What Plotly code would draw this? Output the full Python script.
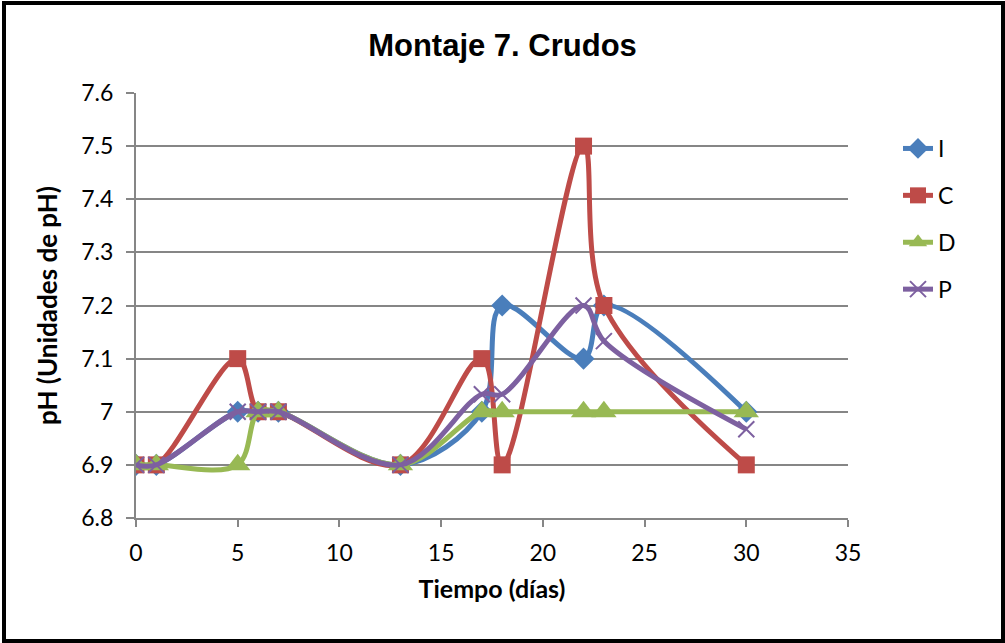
import plotly.graph_objects as go

# Sampling days and pH readings for each series
dias = [0, 1, 5, 6, 7, 13, 17, 18, 22, 23, 30]
ph_I = [6.9, 6.9, 7.0, 7.0, 7.0, 6.9, 7.0, 7.2, 7.1, 7.2, 7.0]
ph_C = [6.9, 6.9, 7.1, 7.0, 7.0, 6.9, 7.1, 6.9, 7.5, 7.2, 6.9]
ph_D = [6.9, 6.9, 6.9, 7.0, 7.0, 6.9, 7.0, 7.0, 7.0, 7.0, 7.0]
ph_P = [6.9, 6.9, 7.0, 7.0, 7.0, 6.9, 7.033, 7.033, 7.2, 7.133, 6.967]

series = [
    ("I", ph_I, "#4A7EBB", dict(symbol="diamond", size=17)),
    ("C", ph_C, "#BE4B48", dict(symbol="square", size=17)),
    ("D", ph_D, "#98B954", dict(symbol="triangle-up", size=22)),
    ("P", ph_P, "#7D60A0", dict(symbol="x-thin", size=16)),
]

W, H = 1005, 643
L, R, T, B = 136, 848, 93, 518  # plot-area edges in pixels


def px_x(p):
    return (p - L) / (R - L)


def px_y(p):
    return (B - p) / (B - T)


fig = go.Figure()
for name, vals, color, mk in series:
    marker = dict(color=color, **mk)
    if mk["symbol"] == "x-thin":
        marker["line"] = dict(width=2, color=color)
    fig.add_trace(go.Scatter(
        x=dias, y=vals, name=name, mode="lines+markers",
        line=dict(color=color, width=5, shape="spline", smoothing=1.0),
        marker=marker, legendgroup=name,
    ))

grid = "#868686"
fig.update_layout(
    width=W, height=H,
    margin=dict(l=L, r=W - R, t=T, b=H - B),
    paper_bgcolor="white", plot_bgcolor="white",
    title=dict(text="<b>Montaje 7. Crudos</b>", x=0.5, xanchor="center",
               y=1 - 45 / H, yanchor="middle",
               font=dict(family="Liberation Sans", size=31, color="black")),
    font=dict(family="Lato", color="black"),
    xaxis=dict(range=[0, 35], tick0=0, dtick=5, showgrid=False, zeroline=False,
               showline=True, linecolor=grid, linewidth=2,
               ticks="outside", ticklen=7, tickcolor=grid, tickwidth=2,
               tickfont=dict(size=23), ticklabelstandoff=6,
               title=dict(text="<b>Tiempo (días)</b>", font=dict(size=25), standoff=16)),
    yaxis=dict(range=[6.8, 7.6], tick0=6.8, dtick=0.1, showgrid=True,
               gridcolor=grid, gridwidth=2, zeroline=False,
               showline=True, linecolor=grid, linewidth=2,
               ticks="outside", ticklen=8, tickcolor=grid, tickwidth=2,
               tickfont=dict(size=23), tickformat="~g", ticklabelstandoff=8,
               title=dict(text="<b>pH (Unidades de pH)</b>", font=dict(size=26), standoff=16)),
    legend=dict(x=px_x(898), y=px_y(127), xanchor="left", yanchor="top",
                font=dict(size=23), tracegroupgap=14, bgcolor="rgba(0,0,0,0)"),
    showlegend=True,
)

# Outer frame around the whole chart
fig.add_shape(type="rect", xref="paper", yref="paper",
              x0=px_x(4), x1=px_x(1003), y0=px_y(641), y1=px_y(3),
              line=dict(color="black", width=4), fillcolor="rgba(0,0,0,0)", layer="below")

fig.write_html("out.html")
